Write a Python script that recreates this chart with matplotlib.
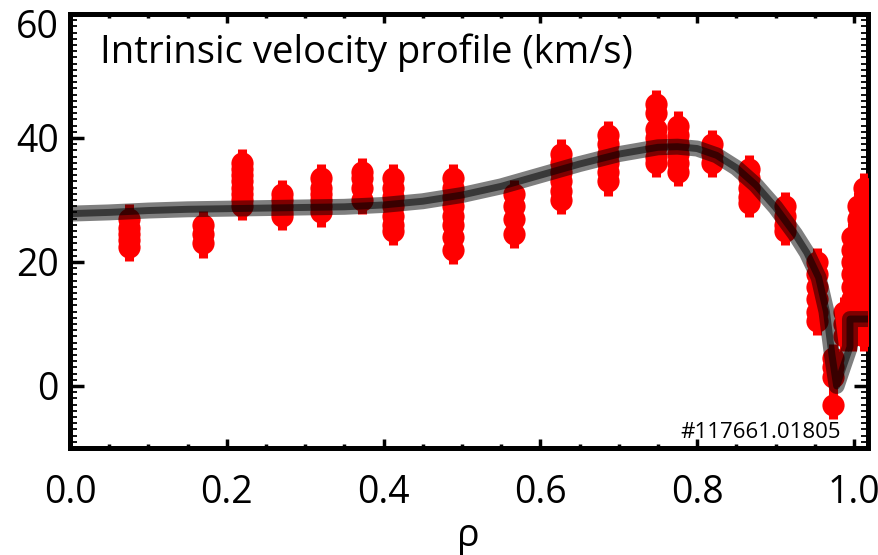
import matplotlib
matplotlib.use("Agg")
import matplotlib.pyplot as plt
from matplotlib.ticker import MultipleLocator
import matplotlib.transforms as mtransforms

plt.rcParams['font.family'] = ['Open Sans', 'DejaVu Sans']

# ---- data ----
col_rho = [0.075, 0.17, 0.22, 0.27, 0.32, 0.373, 0.412, 0.489, 0.566, 0.627,
           0.686, 0.748, 0.776, 0.819, 0.866, 0.912, 0.953, 0.973,
           0.988, 0.997, 1.005, 1.013]
col_vals = [
    [27.0, 25.5, 24.5, 23.5, 22.5],
    [26.0, 24.5, 23.0],
    [36.0, 35.0, 34.0, 33.0, 32.0, 31.0, 30.0, 29.0],
    [31.0, 30.0, 29.0, 28.0, 27.5],
    [33.5, 32.0, 31.0, 30.0, 29.0, 28.0],
    [34.5, 33.5, 32.0, 30.0],
    [33.5, 32.0, 30.5, 29.0, 27.5, 26.0, 25.0],
    [33.5, 32.0, 30.5, 29.0, 27.5, 26.0, 24.0, 22.0],
    [31.0, 29.0, 27.0, 24.5],
    [37.5, 36.0, 34.5, 33.0, 31.5, 30.0],
    [40.5, 39.0, 37.5, 36.0, 34.5, 33.0],
    [45.5, 44.0, 41.5, 40.0, 38.5, 37.0, 36.0],
    [42.0, 40.5, 39.0, 37.5, 36.0, 34.5],
    [39.0, 37.5, 36.0],
    [35.0, 33.5, 32.0, 30.5, 29.5],
    [29.0, 27.5, 26.0, 25.0],
    [20.0, 18.0, 16.0, 14.0, 12.0, 10.5],
    [4.5, 3.0, 1.5, -3.0],
    [12.0, 10.0, 8.0],
    [24.0, 22.0, 20.0, 18.0, 16.0, 14.0, 12.0, 10.0, 8.0],
    [29.0, 27.0, 25.0, 23.0, 21.0, 19.0, 17.0, 15.0, 13.0, 11.0, 9.0],
    [32.0, 30.0, 28.0, 26.0, 24.0, 22.0, 20.0, 18.0, 16.0, 14.0, 12.0, 10.0, 8.0],
]
point_err = 2.3

fit_rho = [0.0, 0.05, 0.1, 0.15, 0.2, 0.25, 0.3, 0.35, 0.4, 0.45, 0.5, 0.55,
           0.6, 0.65, 0.7, 0.75, 0.775, 0.8, 0.825, 0.85, 0.875, 0.9, 0.925,
           0.94, 0.955, 0.965, 0.972, 0.978, 0.986, 0.995, 0.995, 1.018]
fit_v = [27.8, 28.0, 28.3, 28.5, 28.6, 28.7, 28.8, 28.9, 29.2, 29.8, 30.8, 32.2,
         34.0, 35.8, 37.4, 38.5, 38.6, 38.3, 37.2, 35.2, 32.4, 28.8, 24.5,
         21.5, 17.5, 12.0, 5.0, 0.0, 3.0, 6.3, 10.8, 10.8]

x_ticks = [0.0, 0.2, 0.4, 0.6, 0.8, 1.0]
x_ticklabels = ['0.0', '0.2', '0.4', '0.6', '0.8', '1.0']
y_ticks = [0, 20, 40, 60]
y_ticklabels = ['0', '20', '40', '60']
right_ticks = [0, 30, 60]

title = 'Intrinsic velocity profile (km/s)'
shot_id = '#117661.01805'
xlabel = 'ρ'

# ---- figure ----
fig = plt.figure(figsize=(8.79, 5.55), dpi=100)
fig.patch.set_facecolor('white')
pos = [70 / 879, 1 - 448 / 555, (868 - 70) / 879, (448 - 14) / 555]
axr = fig.add_axes(pos)
ax = fig.add_axes(pos)
ax.patch.set_visible(False)

xlim = (0.0, 1.018)
ylim = (-10, 60)
for a in (ax, axr):
    a.set_xlim(*xlim)
    a.set_ylim(*ylim)
    for s in a.spines.values():
        s.set_linewidth(3.5)

# right axis ticks only
axr.set_xticks([])
axr.yaxis.tick_right()
axr.set_yticks(right_ticks)
axr.set_yticklabels([])
axr.yaxis.set_minor_locator(MultipleLocator(1))
axr.tick_params(axis='y', which='major', direction='in', length=10, width=2.5,
                left=False, right=True, labelright=False, labelleft=False)
axr.tick_params(axis='y', which='minor', direction='in', length=5, width=1.3,
                left=False, right=True)

# data
for r, vals in zip(col_rho, col_vals):
    ax.errorbar([r] * len(vals), vals, yerr=point_err, fmt='o', color='#ff0000',
                ms=16, mew=0, elinewidth=6.5, capsize=0, zorder=3)

ax.plot(fit_rho, fit_v, color='black', lw=11.5, alpha=0.5, zorder=4,
        solid_capstyle='butt', solid_joinstyle='round')
ax.plot(fit_rho, fit_v, color='black', lw=5, alpha=0.55, zorder=5,
        solid_capstyle='butt', solid_joinstyle='round')

# ticks
ax.set_xticks(x_ticks)
ax.set_xticklabels(x_ticklabels)
ax.xaxis.set_minor_locator(MultipleLocator(0.05))
ax.set_yticks(y_ticks)
ax.set_yticklabels(y_ticklabels)
ax.yaxis.set_minor_locator(MultipleLocator(1))
ax.tick_params(axis='x', which='major', direction='in', length=6.5, width=2.5,
               top=True, bottom=True, labelsize=27, pad=18.5)
ax.tick_params(axis='x', which='minor', direction='in', length=3, width=2.5,
               top=True, bottom=True)
ax.tick_params(axis='y', which='major', direction='in', length=10, width=2.5,
               left=True, right=False, labelsize=27, pad=8)
ax.tick_params(axis='y', which='minor', direction='in', length=5, width=1.3,
               left=True, right=False)

for lab in ax.get_yticklabels():
    if lab.get_text() == '60':
        lab.set_transform(lab.get_transform() +
                          mtransforms.ScaledTranslation(0, -10 / 100, fig.dpi_scale_trans))

ax.text(0.038, 0.887, title, transform=ax.transAxes, fontsize=27.5,
        ha='left', va='baseline', color='black')
ax.text(0.966, 0.023, shot_id, transform=ax.transAxes, fontsize=16,
        ha='right', va='baseline', color='black', zorder=6)
fig.text(468 / 879, 1 - 546 / 555, xlabel, fontsize=27, ha='center', va='baseline')

fig.savefig('out.png', dpi=100, facecolor='white')
